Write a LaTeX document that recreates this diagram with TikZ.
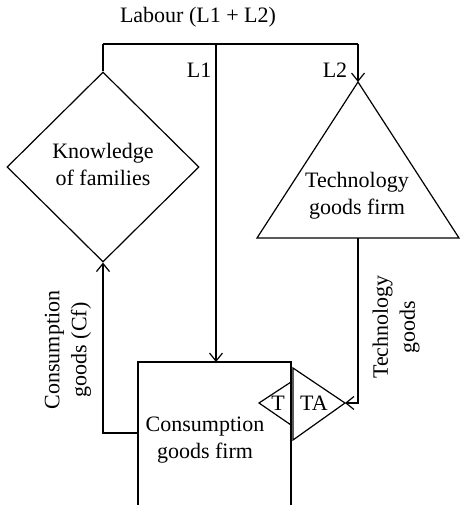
\documentclass[tikz,border=0pt]{standalone}
\usepackage{fontspec}
\setmainfont{Liberation Serif}
\usetikzlibrary{arrows.meta,shapes.geometric}

\begin{document}
\begin{tikzpicture}[x=1pt,y=-1pt,
		line width=1.2pt,
		flow/.style={-{Straight Barb[length=8pt,width=13pt]}},
		lbl/.style={font=\fontsize{22}{27}\selectfont, inner sep=0pt, align=center},
		know/.style={draw, diamond, minimum width=192pt, minimum height=190pt, inner sep=0pt}]
	\useasboundingbox (0,0) rectangle (460,505);
	% labour split
	\node[lbl] (labour) at (198,17) {Labour (L1 + L2)};
	\coordinate (lt) at (103,44);
	\coordinate (mt) at (216,44);
	\coordinate (rt) at (358,44);
	\draw (lt) -- (rt);
	\node[lbl, anchor=east] (l1) at (212,70) {L1};
	\node[lbl] (l2) at (335,70) {L2};
	% knowledge of families
	\node[know] (fam) at (103,167) {};
	\node[lbl] (famtxt) at (103,164) {Knowledge\\of families};
	\draw (lt) -- (fam.north);
	% technology goods firm
	\coordinate (tapex) at (358,82);
	\coordinate (tleft) at (257,238);
	\coordinate (tright) at (459,238);
	\coordinate (tbase) at (358,238);
	\draw (tapex) -- (tleft) -- (tright) -- cycle;
	\node[lbl] (techtxt) at (357,196) {Technology\\goods firm};
	\draw[flow] (rt) -- (tapex);
	% consumption goods firm
	\coordinate (bl) at (138,505);
	\coordinate (br) at (291,505);
	\coordinate (btop) at (216,362);
	\coordinate (bleft) at (138,433);
	\draw (bl) |- (291,362) -- (br);
	\node[lbl] (cfirm) at (205,440) {Consumption\\goods firm};
	\draw[flow] (mt) -- (btop);
	% T and TA
	\coordinate (ta1) at (293,368);
	\coordinate (ta2) at (293,440);
	\coordinate (tatip) at (345,403);
	\draw (ta1) -- (tatip) -- (ta2) -- cycle;
	\coordinate (t1) at (291,382);
	\coordinate (t2) at (291,425);
	\coordinate (ttip) at (259,403);
	\draw (t1) -- (ttip) -- (t2);
	\node[lbl] (t) at (278,403) {T};
	\node[lbl] (ta) at (314,403) {TA};
	% flows of goods
	\draw[flow] (tbase) |- (tatip);
	\node[lbl, rotate=90] (techgoods) at (396,327) {Technology\\goods};
	\draw[flow] (bleft) -| (fam.south);
	\node[lbl, rotate=90] (cgoods) at (68,350) {Consumption\\goods (Cf)};
\end{tikzpicture}
\end{document}
